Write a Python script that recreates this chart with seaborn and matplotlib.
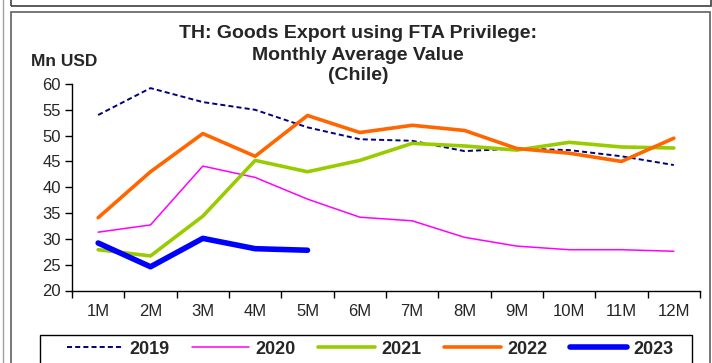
import matplotlib
matplotlib.use("Agg")
import matplotlib.pyplot as plt
import seaborn as sns
import pandas as pd
from matplotlib.patches import Rectangle
from matplotlib.lines import Line2D

months = ["1M", "2M", "3M", "4M", "5M", "6M", "7M", "8M", "9M", "10M", "11M", "12M"]
v2019 = [54.0, 59.2, 56.5, 55.0, 51.6, 49.3, 49.0, 47.0, 47.5, 47.2, 46.0, 44.3]
v2020 = [31.3, 32.7, 44.1, 41.9, 37.7, 34.2, 33.5, 30.3, 28.6, 27.9, 27.9, 27.6]
v2021 = [27.9, 26.7, 34.4, 45.2, 43.0, 45.2, 48.5, 48.0, 47.2, 48.7, 47.8, 47.6]
v2022 = [34.1, 43.0, 50.4, 46.0, 53.9, 50.6, 52.0, 51.0, 47.5, 46.6, 45.0, 49.5]
v2023 = [29.2, 24.6, 30.1, 28.1, 27.8]
yticks = [20, 25, 30, 35, 40, 45, 50, 55, 60]

sns.set_theme(style="white")
plt.rcParams['font.family'] = ['Liberation Sans', 'DejaVu Sans']

series = [
    ("2019", v2019, dict(color="#000080", lw=1.4, ls=(0, (2.6, 1.6)))),
    ("2020", v2020, dict(color="#FF00FF", lw=1.1, ls="-")),
    ("2021", v2021, dict(color="#99CC00", lw=2.6, ls="-")),
    ("2022", v2022, dict(color="#FF6600", lw=2.6, ls="-")),
    ("2023", v2023, dict(color="#0000FF", lw=4.0, ls="-")),
]

W, H = 712, 363
fig = plt.figure(figsize=(W / 100, H / 100), dpi=100)
ax = fig.add_axes([72 / W, 1 - 290.5 / H, (700 - 72) / W, (290.5 - 84) / H])

handles = []
for name, vals, st in series:
    df = pd.DataFrame({"month": pd.Categorical(months[:len(vals)], categories=months), "value": vals})
    df["x"] = df["month"].cat.codes
    sns.lineplot(data=df, x="x", y="value", ax=ax, color=st["color"], linewidth=st["lw"],
                 linestyle=st["ls"], solid_capstyle="round", legend=False)
    handles.append(Line2D([0], [0], color=st["color"], lw=st["lw"], ls=st["ls"],
                          solid_capstyle="round", label=name))

ax.set_xlim(-0.5, len(months) - 0.5)
ax.set_ylim(20, 60)
ax.set_yticks(yticks)
ax.set_yticklabels([str(t) for t in yticks], fontsize=12)
ax.set_xticks(range(len(months)))
ax.set_xticklabels(months, fontsize=12)
ax.set_xticks([i - 0.5 for i in range(len(months) + 1)], minor=True)
ax.tick_params(axis="x", which="major", length=0, pad=10)
ax.tick_params(axis="x", which="minor", length=5, width=1, color="black", direction="out", bottom=True)
ax.tick_params(axis="y", length=5, width=1, color="black", direction="out", left=True, pad=3)
ax.set_xlabel("")
ax.set_ylabel("")
for s in ["top", "right"]:
    ax.spines[s].set_visible(False)
for s in ["left", "bottom"]:
    ax.spines[s].set_color("black")
    ax.spines[s].set_linewidth(1)
ax.grid(False)

for txt, yy in [("TH: Goods Export using FTA Privilege:", 33),
                ("Monthly Average Value", 55),
                ("(Chile)", 76)]:
    fig.text(358 / W, 1 - yy / H, txt, ha="center", va="center", fontsize=14, fontweight="bold")
fig.text(31 / W, 1 - 61 / H, "Mn USD", ha="left", va="center", fontsize=12.5, fontweight="bold")

# frames
fig.add_artist(Rectangle((11 / W, 1 - 6 / H), (711 - 11) / W, 6 / H + 0.01, transform=fig.transFigure,
                         fill=False, edgecolor="#404040", lw=1.2))
fig.add_artist(Rectangle((11 / W, -0.01), (710 - 11) / W, 1 - 12 / H + 0.01, transform=fig.transFigure,
                         fill=False, edgecolor="#606060", lw=1.2))
fig.add_artist(Line2D([3 / W, 3 / W], [0, 1], transform=fig.transFigure, color="#A0A0A0", lw=1))
# legend box
fig.add_artist(Rectangle((40 / W, -0.01), (692 - 40) / W, 1 - 334.5 / H + 0.01, transform=fig.transFigure,
                         fill=False, edgecolor="black", lw=1))

leg = fig.legend(handles=handles, loc="center", bbox_to_anchor=(370 / W, 1 - 349 / H),
                 ncol=5, frameon=False, handlelength=3.15,
                 borderaxespad=0, prop=dict(size=13, weight="bold"), columnspacing=1.25,
                 handletextpad=0.35, borderpad=0)

fig.savefig("out.png", dpi=100)
